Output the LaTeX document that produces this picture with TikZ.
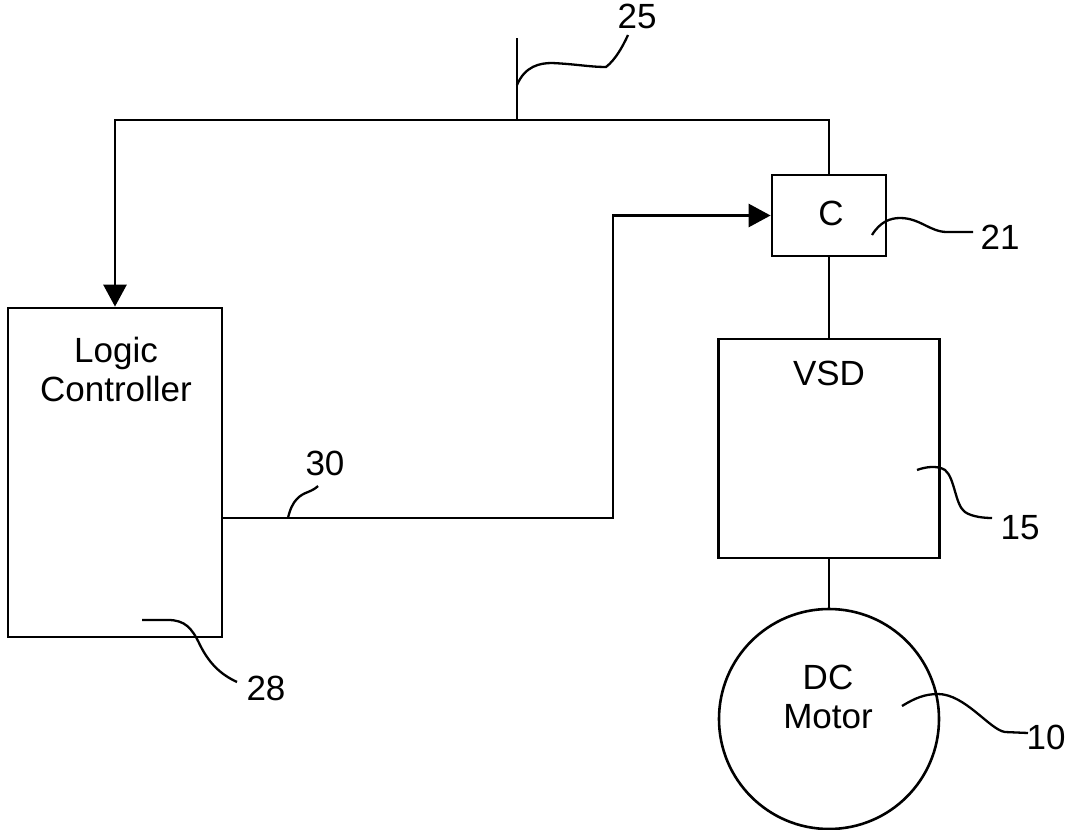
\documentclass[tikz,border=0pt]{standalone}
\usepackage{fontspec}
\setmainfont{Liberation Sans}
\usetikzlibrary{arrows.meta,positioning,calc}

\begin{document}
\begin{tikzpicture}[x=1pt,y=-1pt,
    blockbox/.style={draw,rectangle,line width=2.8pt,inner sep=0pt},
    motorcirc/.style={draw,circle,line width=2.6pt,inner sep=0pt,minimum size=220pt},
    boxtext/.style={inner sep=0pt,align=center,font=\fontsize{35}{39}\selectfont},
    numlabel/.style={inner sep=0pt,font=\fontsize{35}{39}\selectfont},
    wire/.style={line width=2.8pt},
    sig/.style={wire,-{Triangle[length=22pt,width=23pt]}},
    lead/.style={line width=2.3pt}]
\useasboundingbox (0,0) rectangle (1066,830);

\node[blockbox,minimum width=214pt,minimum height=329pt] (logic) at (115,472.5) {};
\node[blockbox,minimum width=114pt,minimum height=81pt] (cbox) at (829,215.5) {};
\node[blockbox,minimum width=221pt,minimum height=219pt] (vsd) at (829,448.5) {};
\node[motorcirc] (motor) at (829,719) {};

\node[boxtext] (logictext) at (116,369) {Logic\\Controller};
\node[boxtext] (ctext) at (831,213) {C};
\node[boxtext] (vsdtext) at (829,373) {VSD};
\node[boxtext] (motortext) at (828,697) {DC\\Motor};

\node[numlabel] (n25) at (637,16) {25};
\node[numlabel] (n21) at (1000,237) {21};
\node[numlabel] (n30) at (325,463) {30};
\node[numlabel] (n28) at (266,688) {28};
\node[numlabel] (n15) at (1020,528) {15};
\node[numlabel] (n10) at (1046,737) {10};

\coordinate (tee) at (517,120);
\coordinate (ant) at (517,38);

\draw[sig] (cbox.north) -- (cbox.north |- tee) -| (logic.north);
\draw[wire] (tee) -- (ant);
\draw[sig] (logic.east |- 0,518) -- (613,518) |- (cbox.west);
\draw[wire] (cbox.south) -- (vsd.north);
\draw[wire] (vsd.south) -- (motor.north);

\draw[lead] (517,85) .. controls (525,66) and (540,63) .. (552,63)
  .. controls (575,64) and (590,67) .. (606,67)
  .. controls (615,60) and (622,48) .. (628,35);
\draw[lead] (872,235) .. controls (880,222) and (890,218) .. (900,218)
  .. controls (920,218) and (930,232) .. (947,232) -- (973,232);
\draw[lead] (288,518) .. controls (292,500) and (300,495) .. (308,492)
  .. controls (313,490) and (316,488) .. (318,486);
\draw[lead] (142,620) -- (168,620) .. controls (185,620) and (192,628) .. (200,645)
  .. controls (210,665) and (222,675) .. (237,682);
\draw[lead] (917,470) .. controls (925,467) and (937,465) .. (945,470)
  .. controls (955,478) and (955,505) .. (965,512)
  .. controls (972,517) and (985,518) .. (992,518);
\draw[lead] (902,706) .. controls (915,698) and (925,694) .. (938,694)
  .. controls (965,694) and (990,730) .. (1005,732) -- (1028,733);
\end{tikzpicture}
\end{document}
